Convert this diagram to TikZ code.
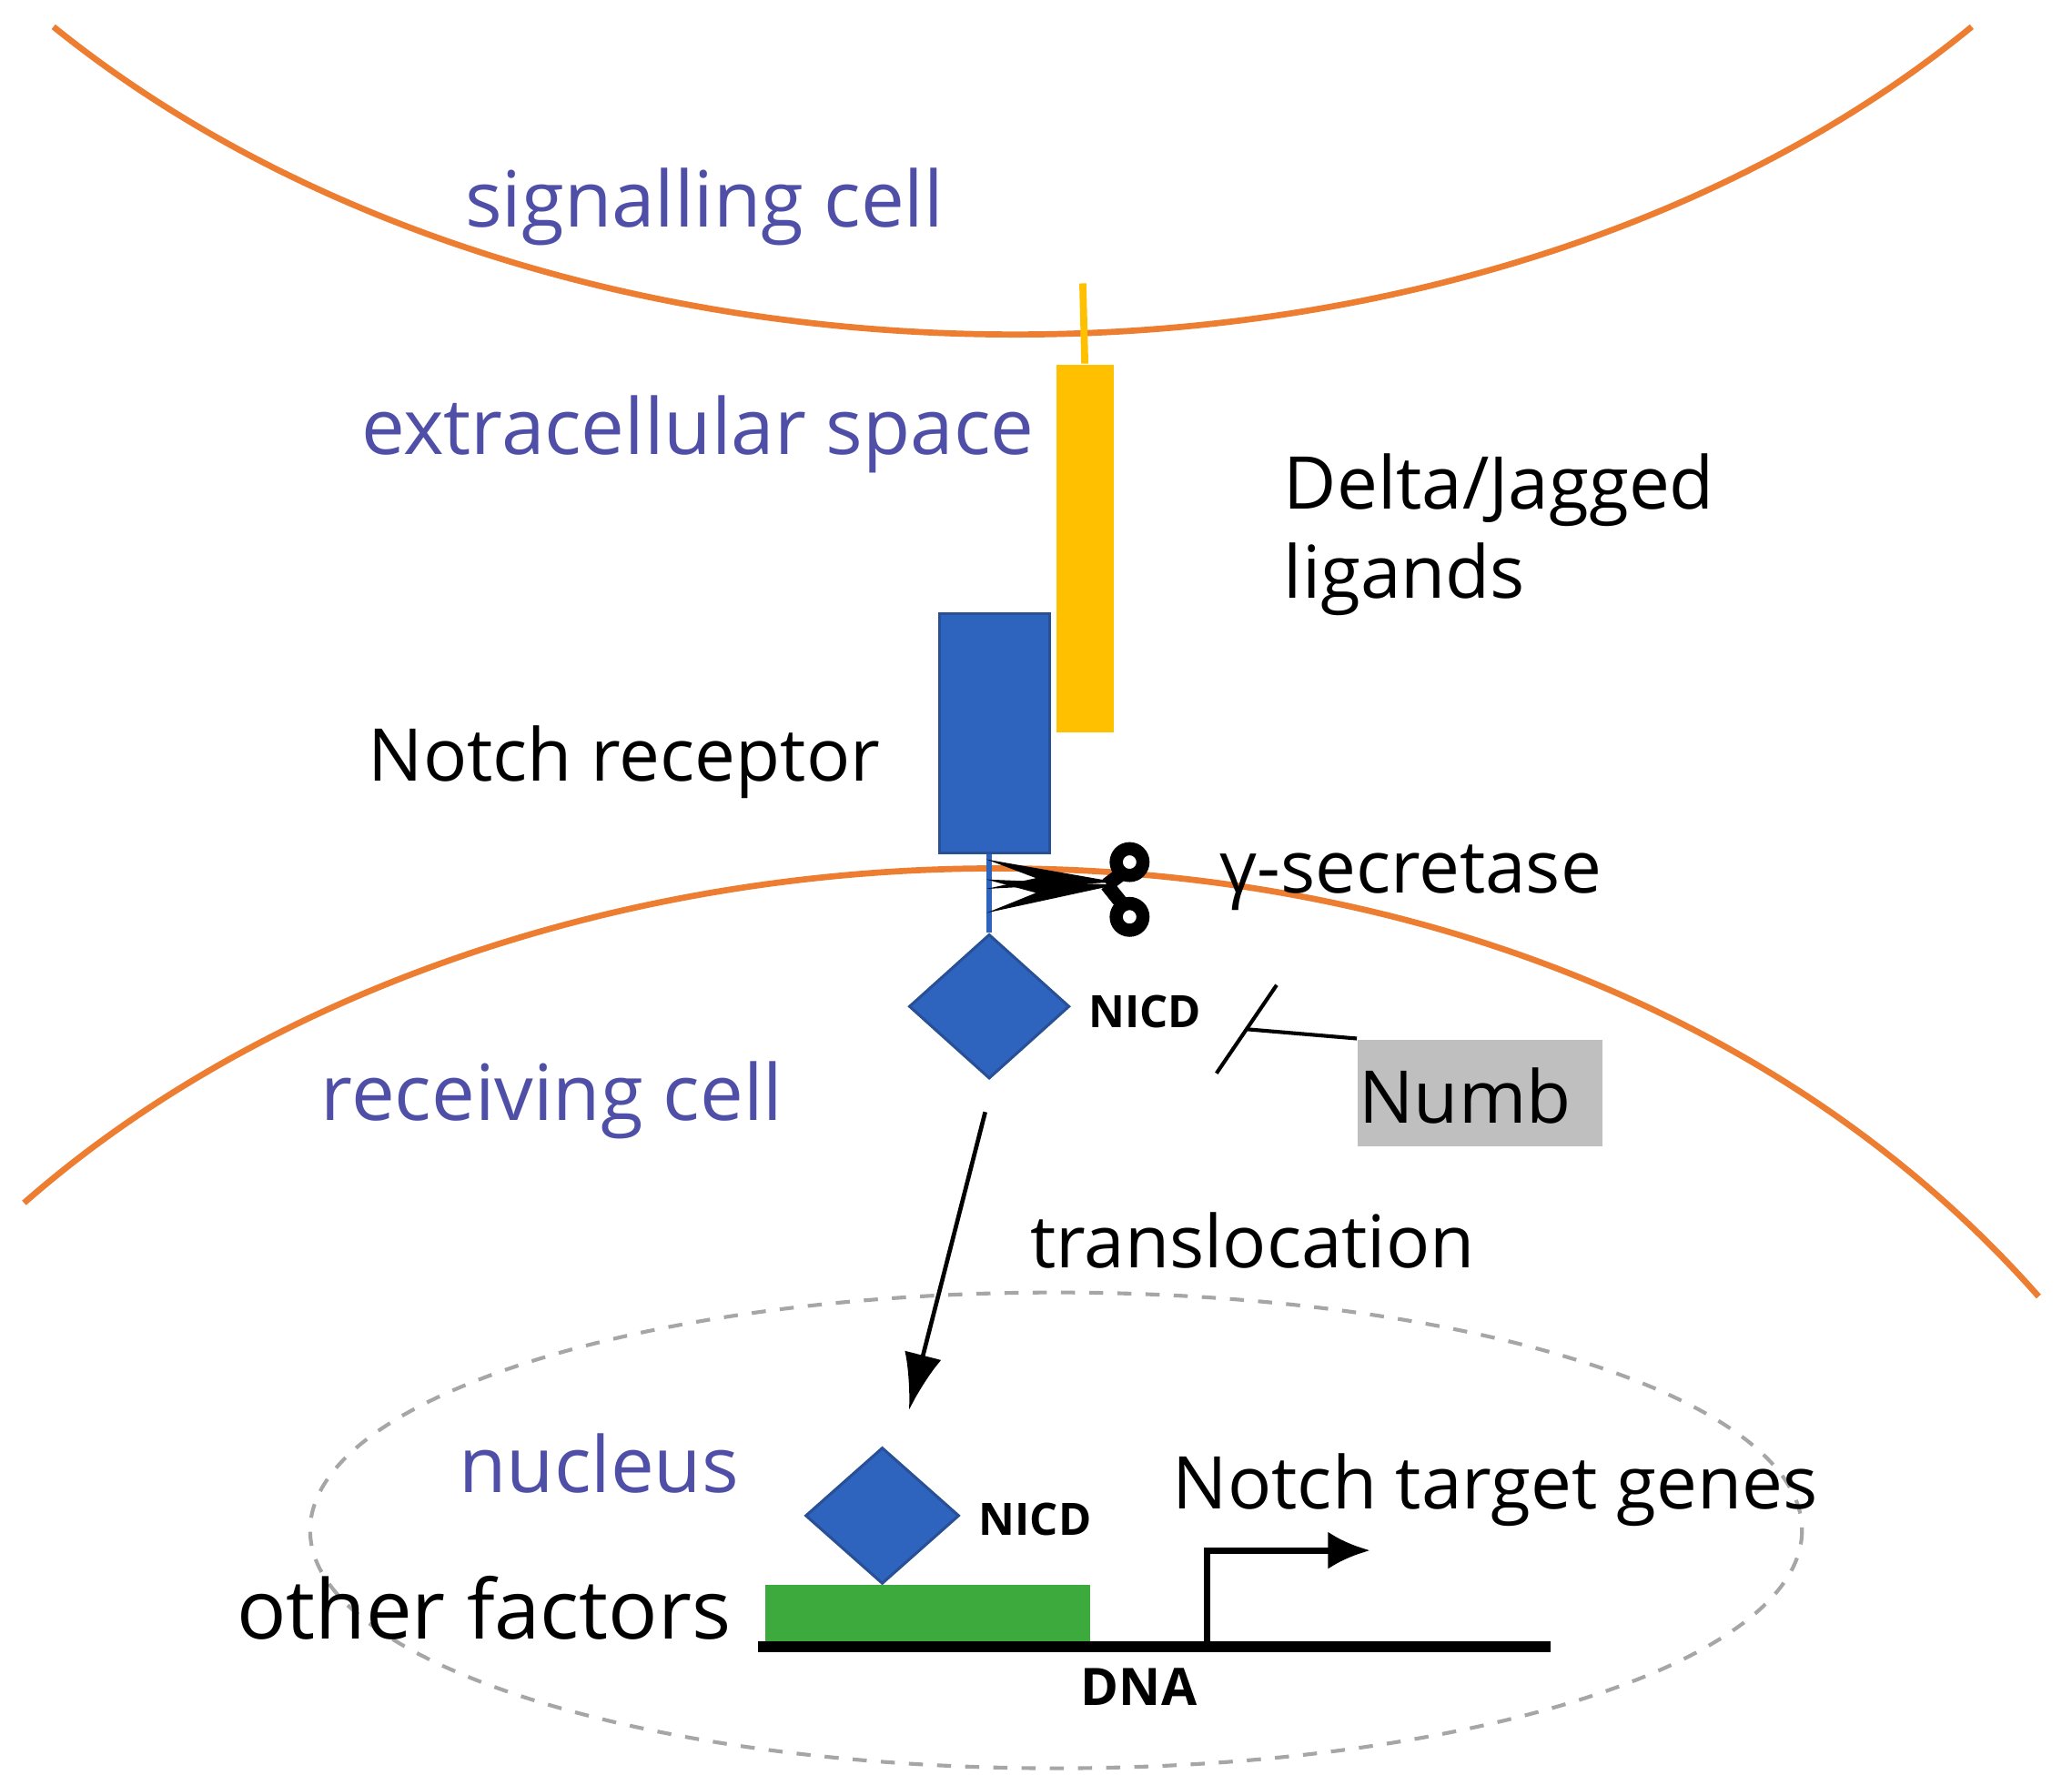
\documentclass[tikz,border=0pt]{standalone}
\usepackage{fontspec}
\setmainfont{Open Sans}
\usetikzlibrary{shapes.geometric,arrows.meta}
\begin{document}
\begin{tikzpicture}[x=0.1mm,y=-0.1mm,
  lab/.style={font=\fontsize{16.5pt}{19pt}\selectfont, text={rgb,255:red,79;green,79;blue,168}},
  blk/.style={font=\fontsize{15.5pt}{19pt}\selectfont},
  big/.style={font=\fontsize{17.5pt}{21pt}\selectfont},
  bold/.style={font=\fontsize{9.5pt}{12pt}\selectfont\bfseries},
  prot/.style={fill={rgb,255:red,46;green,100;blue,190}, draw={rgb,255:red,40;green,80;blue,150}, line width=0.6pt}]
\useasboundingbox (0,0) rectangle (1550,1328);
% membranes
\draw[line width=1.3pt, color={rgb,255:red,237;green,125;blue,49}] (40,20) .. controls (420,327) and (1100,327) .. (1475,20);
\draw[line width=1.3pt, color={rgb,255:red,237;green,125;blue,49}] (18,900) .. controls (400,565) and (1150,545) .. (1525,970);
% nucleus
\draw[dashed, gray!70, line width=0.8pt] (790,1145) ellipse [x radius=558, y radius=178];
% ligand
\coordinate (lt) at (810,212);
\node[fill={rgb,255:red,255;green,192;blue,0}, minimum width=43*0.1mm, minimum height=275*0.1mm, inner sep=0, anchor=north] (lig) at (811.5,272) {};
\draw[line width=1.5pt, color={rgb,255:red,255;green,192;blue,0}] (lt) -- (lig.north);
% receptor
\node[prot, minimum width=82*0.1mm, minimum height=179*0.1mm, inner sep=0, anchor=north] (rec) at (744,458) {};
% diamond 1
\node[prot, diamond, aspect=1.1, minimum width=120*0.1mm, minimum height=108*0.1mm, inner sep=0] (d1) at (740,753) {};
\draw[line width=1.2pt, color={rgb,255:red,46;green,100;blue,190}] (rec.south -| d1.north) -- (d1.north);
% scissors
\fill (738,643) -- (835,660) -- (738,665) -- (775,657) -- cycle;
\fill (738,683) -- (835,662) -- (738,658) -- (775,668) -- cycle;
\draw[line width=2.8pt] (845,645) circle (10) (845,686) circle (10);
\draw[line width=3pt] (828,662) -- (840,653) (828,662) -- (840,677);
% texts
\node[lab] (sc) at (527,155) {signalling cell};
\node[lab] (es) at (522,325) {extracellular space};
\node[blk, anchor=west, align=left] (dj) at (948,400) {Delta/Jagged\\ligands};
\node[blk] (nr) at (467,570) {Notch receptor};
\node[blk, anchor=west] (gs) at (900,657) {γ-secretase};
\node[bold, anchor=west, inner sep=1pt] (n1) at (810,757) {NICD};
\node[fill=gray!50, minimum width=183*0.1mm, minimum height=80*0.1mm, inner sep=0, anchor=north west] (numbbox) at (1015,777) {};
\node[blk] (numb) at (1096,820) {Numb};
\coordinate (inh) at (932,770);
\draw[line width=0.8pt] (numbbox.north west) -- (inh);
\draw[line width=0.8pt] (955,737) -- (910,803);
\node[lab] (rc) at (413,823) {receiving cell};
\node[blk] (tr) at (937,928) {translocation};
\coordinate (as) at (737,832);
\coordinate (ae) at (680,1055);
\draw[-{Latex[length=12pt,width=8pt]}, line width=0.9pt] (as) -- (ae);
\node[lab] (nu) at (448,1095) {nucleus};
% nucleus contents
\node[prot, diamond, aspect=1.1, minimum width=115*0.1mm, minimum height=102*0.1mm, inner sep=0] (d2) at (660,1134) {};
\node[bold, anchor=west, inner sep=1pt] (n2) at (728,1137) {NICD};
\node[fill={rgb,255:red,60;green,170;blue,60}, minimum width=243*0.1mm, minimum height=43*0.1mm, inner sep=0, anchor=north west] (tf) at (572,1185) {};
\coordinate (dl) at (567,1232);
\coordinate (dr) at (1160,1232);
\draw[line width=2.2pt] (dl) -- (dr);
\node[font=\fontsize{11pt}{13pt}\selectfont\bfseries] (dna) at (852,1262) {DNA};
\coordinate (p0) at (903,1232);
\coordinate (p1) at (1025,1160);
\draw[-{Latex[length=9pt,width=8pt]}, line width=1.4pt] (p0) |- (p1);
\node[blk, anchor=west] (ntg) at (865,1115) {Notch target genes};
\node[big] (of) at (362,1203) {other factors};
\end{tikzpicture}
\end{document}
